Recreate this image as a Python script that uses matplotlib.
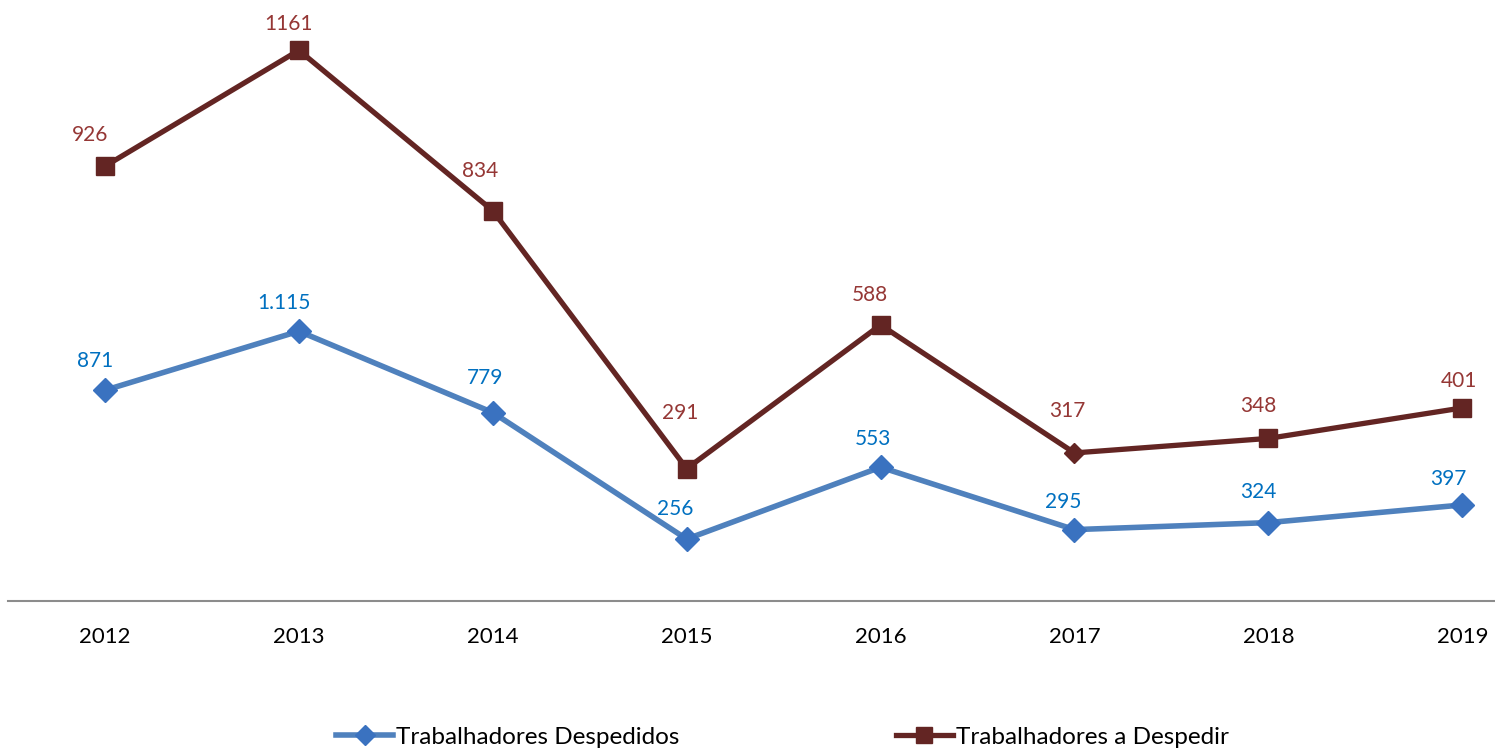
import matplotlib
matplotlib.use("Agg")
import matplotlib.pyplot as plt
from matplotlib.lines import Line2D

years = ["2012", "2013", "2014", "2015", "2016", "2017", "2018", "2019"]
despedidos = [871, 1115, 779, 256, 553, 295, 324, 397]
a_despedir = [926, 1161, 834, 291, 588, 317, 348, 401]
lab_despedidos = ["871", "1.115", "779", "256", "553", "295", "324", "397"]
lab_a_despedir = ["926", "1161", "834", "291", "588", "317", "348", "401"]
red_markers = ["s", "s", "s", "s", "s", "D", "s", "s"]

# label offsets in pixels (style only): (dx, dy of digit centre above point)
off_blue = [(-10, 31), (-15, 29.5), (-8, 36.5), (-11, 31.5), (-7.5, 29.5), (-11, 29.5), (-10, 32), (-14, 27.5)]
off_red = [(-15, 33), (-10, 28), (-13, 41.5), (-6, 57), (-11, 31.5), (-7, 43.5), (-10, 34), (-3, 28.5)]

plt.rcParams['font.family'] = ['Lato', 'DejaVu Sans']

W, H = 1495, 749
fig = plt.figure(figsize=(W / 100, H / 100), dpi=100)
ax = fig.add_axes([8 / W, (H - 601) / H, (W - 8) / W, 601 / H])

blue = "#4F81BD"
red = "#632523"
blue_txt = "#0070C0"
red_txt = "#953735"
mblue = "#3A72C0"

x = list(range(len(years)))
stacked = [a + b for a, b in zip(despedidos, a_despedir)]

ax.plot(x, despedidos, color=blue, lw=4.0, marker="D", ms=12.5, mfc=mblue, mec=mblue,
        solid_capstyle="round", zorder=3, clip_on=False)
ax.plot(x, stacked, color=red, lw=3.8, zorder=3, clip_on=False)
for xi, yi, m in zip(x, stacked, red_markers):
    ax.plot([xi], [yi], marker=m, ms=13.5 if m == "s" else 10.5, color=red, zorder=4, clip_on=False)

half_digit = 7.7
for xi, yi, t, (dx, dy) in zip(x, despedidos, lab_despedidos, off_blue):
    ax.annotate(t, (xi, yi), xytext=(dx, dy - half_digit), textcoords="offset pixels",
                ha="center", va="baseline", fontsize=15, color=blue_txt)
for xi, yi, t, (dx, dy) in zip(x, stacked, lab_a_despedir, off_red):
    ax.annotate(t, (xi, yi), xytext=(dx, dy - half_digit), textcoords="offset pixels",
                ha="center", va="baseline", fontsize=15, color=red_txt)

ax.set_xlim(-0.5, (W - 105) / 193.9)
ax.set_ylim(0, 601 / 0.24196)
ax.set_xticks(x)
ax.set_xticklabels(years, fontsize=16, color="black")
ax.tick_params(axis="x", length=0, pad=19)
ax.set_yticks([])
for s in ["top", "right", "left"]:
    ax.spines[s].set_visible(False)
ax.spines["bottom"].set_color("#8C8C8C")
ax.spines["bottom"].set_linewidth(1.5)

h1 = Line2D([], [], color=blue, lw=4.0, marker="D", ms=10, mfc=mblue, mec=mblue)
h2 = Line2D([], [], color=red, lw=3.8, marker="s", ms=12)
fig.legend([h1, h2], ["Trabalhadores Despedidos", "Trabalhadores a Despedir"],
           loc="center left", bbox_to_anchor=(336 / W, 1 - 737 / H), ncol=2, frameon=False,
           fontsize=17.5, handlelength=2.35, handletextpad=0.12, columnspacing=8.9, borderpad=0,
           borderaxespad=0)

fig.savefig("out.png", dpi=100)
